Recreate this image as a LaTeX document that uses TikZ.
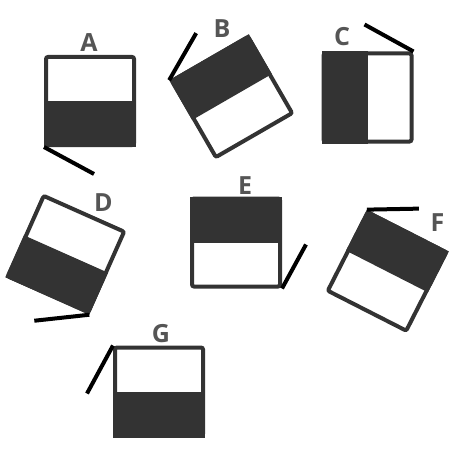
\documentclass[tikz,border=0pt]{standalone}
\usepackage{fontspec}
\setsansfont{Open Sans}
\usepackage{tikz}
\usetikzlibrary{positioning}

\definecolor{panelgray}{HTML}{333333}
\definecolor{lettergray}{HTML}{555555}

\begin{document}
\begin{tikzpicture}[
  x=1pt, y=-1pt,
  panel/.style={rectangle, rounded corners=2pt, draw=panelgray, fill=white,
                line width=4pt, minimum size=88pt, inner sep=0pt},
  letter/.style={font=\fontsize{25}{25}\selectfont\sffamily\bfseries,
                 text=lettergray, inner sep=0pt},
  shade/.style={fill=panelgray},
  stick/.style={line width=4pt, black}
]
\useasboundingbox (0,0) rectangle (460,460);

%% ── panels, placed by absolute position ──────────────────────────────
\node[panel]             at (90,101)    (a) {};
\node[panel, rotate=30]  at (232,97)    (b) {};
\node[panel]             at (367.5,97.5) (c) {};
\node[panel, rotate=-24] at (66,254)    (d) {};
\node[panel]             at (236,242.5) (e) {};
\node[panel, rotate=-27] at (387,271.5) (f) {};
\node[panel]             at (159,391.5) (g) {};

%% ── dark halves ──────────────────────────────────────────────────────
\fill[shade] (a.west) -- (a.east) -- (a.south east) -- (a.south west) -- cycle;
\fill[shade] (b.west) -- (b.east) -- (b.north east) -- (b.north west) -- cycle;
\fill[shade] (c.north) -- (c.south) -- (c.south west) -- (c.north west) -- cycle;
\fill[shade] (d.west) -- (d.east) -- (d.south east) -- (d.south west) -- cycle;
\fill[shade] (e.west) -- (e.east) -- (e.north east) -- (e.north west) -- cycle;
\fill[shade] (f.west) -- (f.east) -- (f.north east) -- (f.north west) -- cycle;
\fill[shade] (g.west) -- (g.east) -- (g.south east) -- (g.south west) -- cycle;

%% ── letters ──────────────────────────────────────────────────────────
\node[letter] at (89,42.5)   (la) {A};
\node[letter] at (222,28.5)  (lb) {B};
\node[letter] at (342,37)    (lc) {C};
\node[letter] at (103.5,203) (ld) {D};
\node[letter] at (245,185.5) (le) {E};
\node[letter] at (437.5,223) (lf) {F};
\node[letter] at (161,334)   (lg) {G};

%% ── sticks from the corners ──────────────────────────────────────────
\draw[stick] (a.south west) -- ++(50,27);
\draw[stick] (b.north west) -- ++(27,-47);
\draw[stick] (c.north east) -- ++(-49,-27);
\draw[stick] (d.south east) -- ++(-55,6);
\draw[stick] (e.south east) -- ++(24,-44);
\draw[stick] (f.north west) -- ++(52,-1);
\draw[stick] (g.north west) -- ++(-26,48);

\end{tikzpicture}
\end{document}
